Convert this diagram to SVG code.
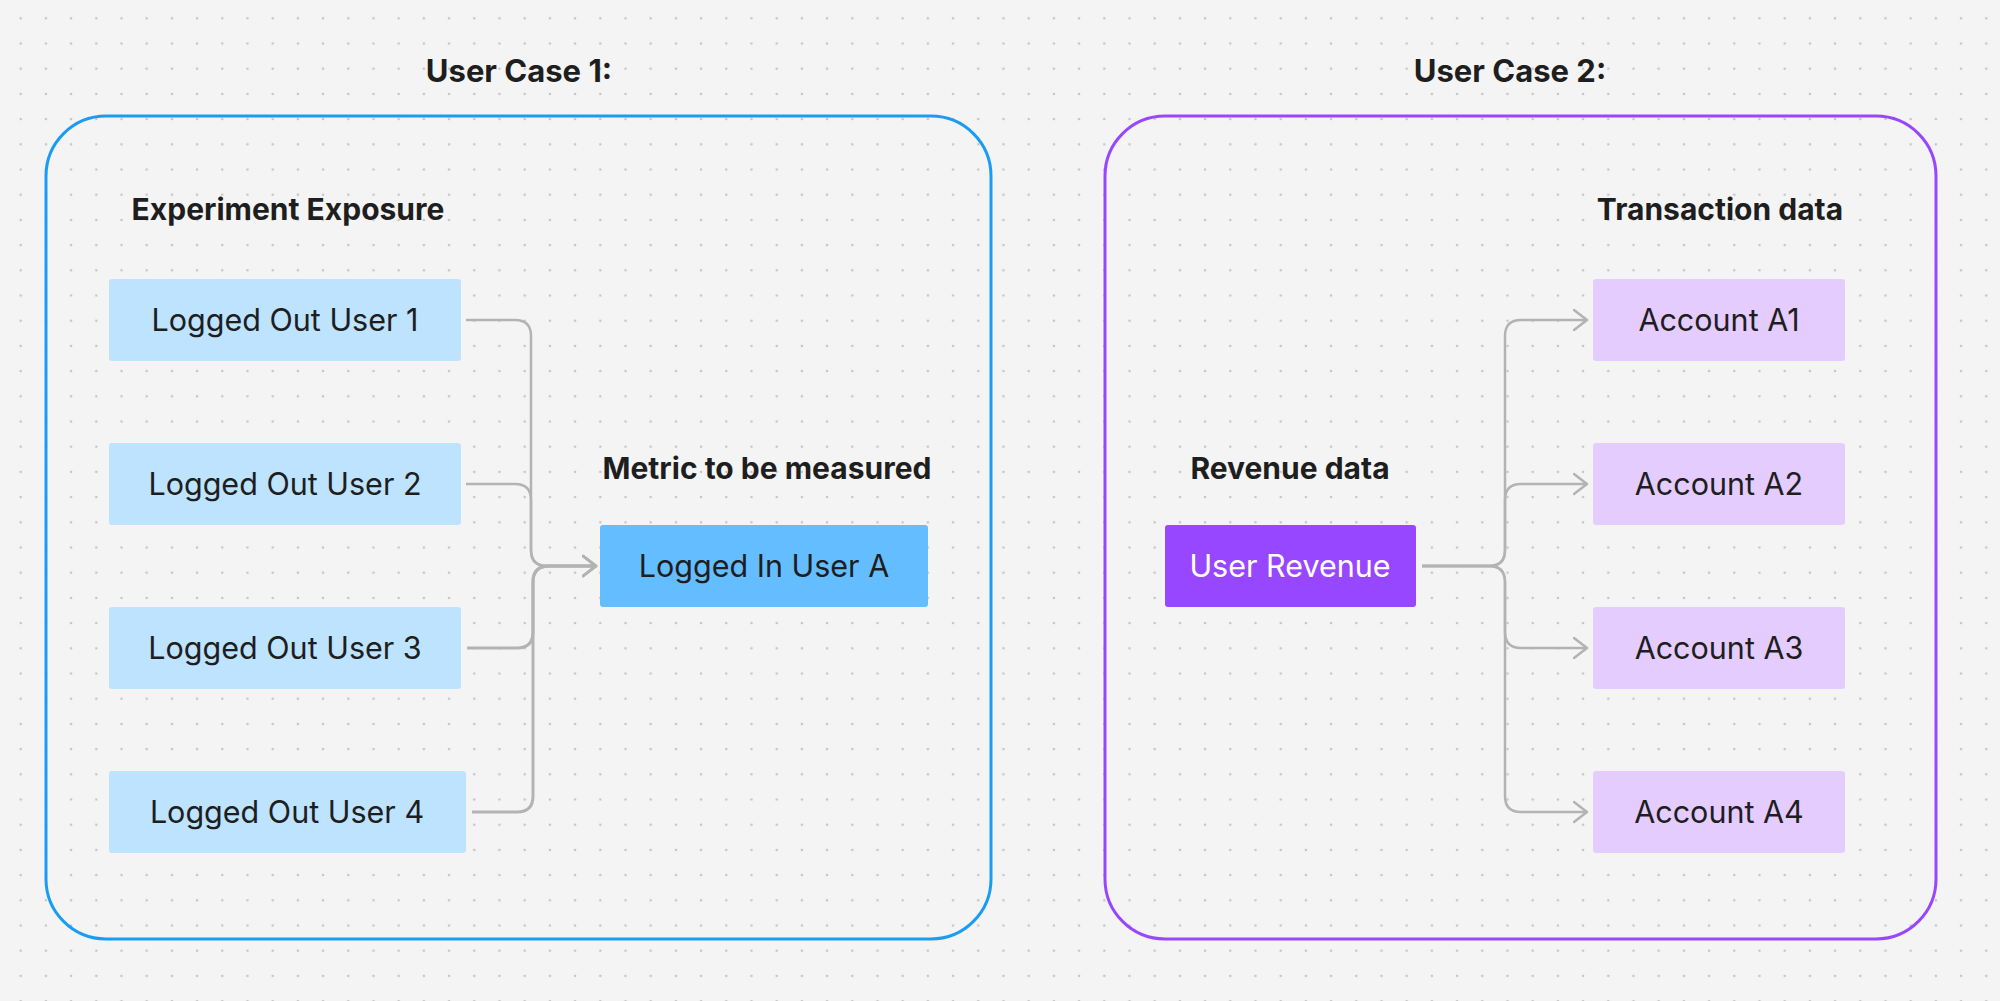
<svg xmlns="http://www.w3.org/2000/svg" width="2000" height="1001" viewBox="0 0 2000 1001">
<defs>
<pattern id="dots" x="8.1" y="5.7" width="25.2" height="25.2" patternUnits="userSpaceOnUse">
<circle cx="12.6" cy="12.6" r="1.3" fill="#c4c4c4"/>
</pattern>
<marker id="arr" viewBox="0 0 16 24" refX="14" refY="12" markerWidth="16" markerHeight="24" markerUnits="userSpaceOnUse" orient="auto">
<path d="M1,2 L14,12 L1,22" fill="none" stroke="#b3b3b3" stroke-width="2.5" stroke-linecap="round" stroke-linejoin="round"/>
</marker>
<style>
.title{font-family:Inter,"Liberation Sans",sans-serif;font-weight:700;font-size:31px;fill:#1e1e1e;text-anchor:middle}
.head{font-family:Inter,"Liberation Sans",sans-serif;font-weight:700;font-size:30px;fill:#1e1e1e;text-anchor:middle}
.lbl{font-family:Inter,"Liberation Sans",sans-serif;font-weight:400;font-size:30.5px;fill:#1e1e1e;text-anchor:middle}
.lblw{font-family:Inter,"Liberation Sans",sans-serif;font-weight:400;font-size:30.5px;fill:#ffffff;text-anchor:middle}
.lb{fill:#bde3ff}
.lp{fill:#e4ccff}
.conn{fill:none;stroke:#b3b3b3;stroke-width:2.5}
.conn2{fill:none;stroke:#b3b3b3;stroke-width:3}
</style>
</defs>
<rect width="2000" height="1001" fill="#f4f4f4"/>
<rect width="2000" height="1001" fill="url(#dots)"/>

<g id="case1">
<rect x="46" y="116" width="945" height="823" rx="60" fill="none" stroke="#1a9cf5" stroke-width="3"/>
<text class="title" x="519" y="82">User Case 1:</text>
<text class="head" x="288" y="220">Experiment Exposure</text>
<text class="head" x="767" y="479">Metric to be measured</text>
</g>
<g id="case2">
<rect x="1105" y="116" width="831" height="823" rx="60" fill="none" stroke="#9747ff" stroke-width="3"/>
<text class="title" x="1510" y="82">User Case 2:</text>
<text class="head" x="1720" y="220">Transaction data</text>
<text class="head" x="1290" y="479">Revenue data</text>
</g>

<g id="connectors">
<path class="conn" d="M466,320 H515 Q531,320 531,336 V550 Q531,566 547,566 H596" marker-end="url(#arr)"/>
<path class="conn" d="M466,484 H515 Q531,484 531,500 V550 Q531,566 547,566 H596" marker-end="url(#arr)"/>
<path class="conn2" d="M467,648 H517 Q533,648 533,632 V582 Q533,566 549,566 H596" marker-end="url(#arr)"/>
<path class="conn2" d="M472,812 H517 Q533,812 533,796 V582 Q533,566 549,566 H596" marker-end="url(#arr)"/>
<path class="conn" d="M1422,566 H1489 Q1505,566 1505,550 V336 Q1505,320 1521,320 H1587" marker-end="url(#arr)"/>
<path class="conn" d="M1422,566 H1489 Q1505,566 1505,550 V500 Q1505,484 1521,484 H1587" marker-end="url(#arr)"/>
<path class="conn" d="M1422,566 H1489 Q1505,566 1505,582 V632 Q1505,648 1521,648 H1587" marker-end="url(#arr)"/>
<path class="conn" d="M1422,566 H1489 Q1505,566 1505,582 V796 Q1505,812 1521,812 H1587" marker-end="url(#arr)"/>
</g>

<g id="logged-out-1"><rect class="lb" x="109" y="279" width="352" height="82" rx="3"/><text class="lbl" x="285" y="331">Logged Out User 1</text></g>
<g id="logged-out-2"><rect class="lb" x="109" y="443" width="352" height="82" rx="3"/><text class="lbl" x="285" y="495">Logged Out User 2</text></g>
<g id="logged-out-3"><rect class="lb" x="109" y="607" width="352" height="82" rx="3"/><text class="lbl" x="285" y="659">Logged Out User 3</text></g>
<g id="logged-out-4"><rect class="lb" x="109" y="771" width="357" height="82" rx="3"/><text class="lbl" x="287" y="823">Logged Out User 4</text></g>
<g id="logged-in-a"><rect x="600" y="525" width="328" height="82" rx="3" fill="#64bdfe"/><text class="lbl" x="764" y="577">Logged In User A</text></g>

<g id="user-revenue"><rect x="1165" y="525" width="251" height="82" rx="3" fill="#9747ff"/><text class="lblw" x="1290" y="577">User Revenue</text></g>
<g id="account-a1"><rect class="lp" x="1593" y="279" width="252" height="82" rx="3"/><text class="lbl" x="1719" y="331">Account A1</text></g>
<g id="account-a2"><rect class="lp" x="1593" y="443" width="252" height="82" rx="3"/><text class="lbl" x="1719" y="495">Account A2</text></g>
<g id="account-a3"><rect class="lp" x="1593" y="607" width="252" height="82" rx="3"/><text class="lbl" x="1719" y="659">Account A3</text></g>
<g id="account-a4"><rect class="lp" x="1593" y="771" width="252" height="82" rx="3"/><text class="lbl" x="1719" y="823">Account A4</text></g>
</svg>
